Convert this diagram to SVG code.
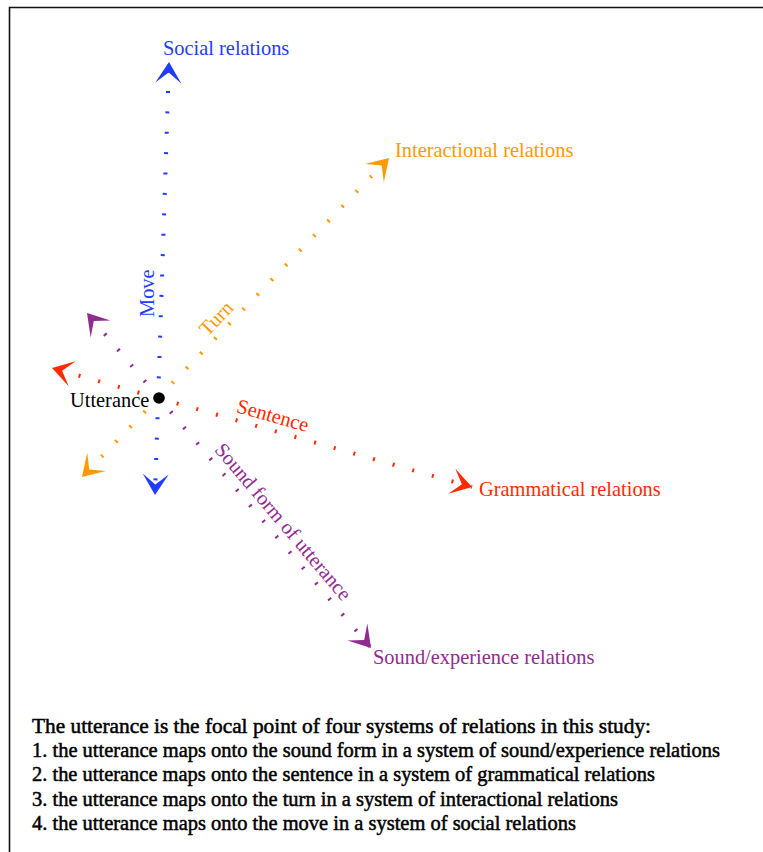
<svg xmlns="http://www.w3.org/2000/svg" width="763" height="852" viewBox="0 0 763 852">
<style>
  .t { font-family: "Liberation Serif", "Times New Roman", serif; font-size: 20.4px; }
  .ax { fill: none; stroke-width: 4; stroke-dasharray: 2 18.4; stroke-linecap: butt; }
  .blue { fill: #1f3cff; }
  .orange { fill: #ff9900; }
  .red { fill: #ff2a00; }
  .purple { fill: #922b90; }
  .note { font-family: "Liberation Serif", "Times New Roman", serif; font-size: 21px; fill: #000; stroke: #000; stroke-width: 0.5; }
</style>
<defs>
  <path id="ah" d="M0,0 L-21,-13 L-10.5,0 L-21,13 Z"/>
</defs>
<rect x="0" y="0" width="763" height="852" fill="#fff"/>
<path d="M9.5,852 V7.5 H763" fill="none" stroke="#111" stroke-width="1.6"/>

<g id="connectors">
  <g id="axis-social">
    <line class="ax" x1="169" y1="62" x2="155" y2="495" stroke="#1f3cff" stroke-dashoffset="11.8"/>
    <use href="#ah" class="blue" transform="translate(169,62) rotate(-88.15)"/>
    <use href="#ah" class="blue" transform="translate(155,495) rotate(91.85)"/>
    <text class="t blue" transform="translate(154,317) rotate(-90)">Move</text>
  </g>
  <g id="axis-interactional">
    <line class="ax" x1="389" y1="158" x2="82" y2="477" stroke="#ff9900" stroke-dashoffset="15.8"/>
    <use href="#ah" class="orange" transform="translate(389,158) rotate(-46.1)"/>
    <use href="#ah" class="orange" transform="translate(82,477) rotate(133.9)"/>
    <text class="t orange" text-anchor="middle" transform="translate(221,323) rotate(-46.1)">Turn</text>
  </g>
  <g id="axis-grammatical">
    <line class="ax" x1="52" y1="368" x2="472" y2="487" stroke="#ff2a00" stroke-dashoffset="13.2"/>
    <use href="#ah" class="red" transform="translate(472,487) rotate(15.8)"/>
    <use href="#ah" class="red" transform="translate(52,368) rotate(195.8)"/>
    <text class="t red" text-anchor="middle" transform="translate(271,422) rotate(15.8)">Sentence</text>
  </g>
  <g id="axis-sound">
    <line class="ax" x1="87" y1="313" x2="371" y2="648" stroke="#922b90" stroke-dashoffset="13.5"/>
    <use href="#ah" class="purple" transform="translate(371,648) rotate(49.7)"/>
    <use href="#ah" class="purple" transform="translate(87,313) rotate(229.7)"/>
    <text class="t purple" text-anchor="middle" transform="translate(278,526) rotate(49.7)">Sound form of utterance</text>
  </g>
</g>

<g id="utterance">
  <circle cx="159" cy="398" r="5.8" fill="#000"/>
  <text class="t" x="70" y="407" fill="#000">Utterance</text>
</g>
<g id="social-relations">
  <text class="t blue" x="163" y="55">Social relations</text>
</g>
<g id="interactional-relations">
  <text class="t orange" x="395" y="157">Interactional relations</text>
</g>
<g id="grammatical-relations">
  <text class="t red" x="479" y="496">Grammatical relations</text>
</g>
<g id="sound-relations">
  <text class="t purple" x="373" y="664">Sound/experience relations</text>
</g>

<g id="caption">
  <text class="note" x="32" y="733" textLength="619" lengthAdjust="spacingAndGlyphs">The utterance is the focal point of four systems of relations in this study:</text>
  <text class="note" x="32" y="757" textLength="688" lengthAdjust="spacingAndGlyphs">1. the utterance maps onto the sound form in a system of sound/experience relations</text>
  <text class="note" x="32" y="781" textLength="623" lengthAdjust="spacingAndGlyphs">2. the utterance maps onto the sentence in a system of grammatical relations</text>
  <text class="note" x="32" y="806" textLength="586" lengthAdjust="spacingAndGlyphs">3. the utterance maps onto the turn in a system of interactional relations</text>
  <text class="note" x="32" y="830" textLength="544" lengthAdjust="spacingAndGlyphs">4. the utterance maps onto the move in a system of social relations</text>
</g>
</svg>
